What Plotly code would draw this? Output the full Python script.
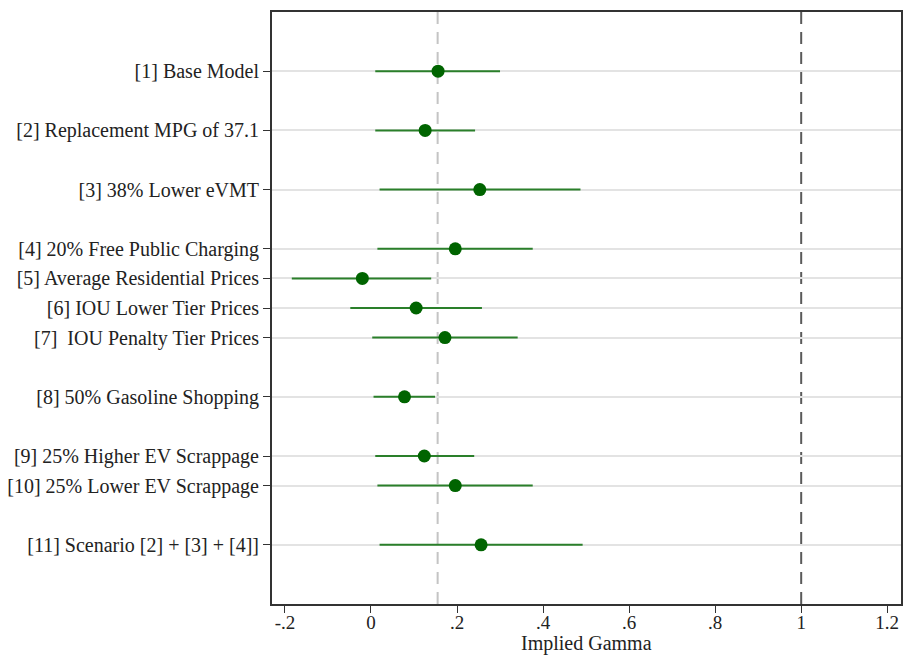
import plotly.graph_objects as go

labels = [
    "[1] Base Model",
    "[2] Replacement MPG of 37.1",
    "[3] 38% Lower eVMT",
    "[4] 20% Free Public Charging",
    "[5] Average Residential Prices",
    "[6] IOU Lower Tier Prices",
    "[7]  IOU Penalty Tier Prices",
    "[8] 50% Gasoline Shopping",
    "[9] 25% Higher EV Scrappage",
    "[10] 25% Lower EV Scrappage",
    "[11] Scenario [2] + [3] + [4]]",
]
row_pos = [0, 2, 4, 6, 7, 8, 9, 11, 13, 14, 16]
gamma = [0.156, 0.126, 0.253, 0.196, -0.020, 0.105, 0.172, 0.078, 0.124, 0.196, 0.256]
ci_low = [0.010, 0.010, 0.020, 0.015, -0.184, -0.048, 0.003, 0.006, 0.010, 0.015, 0.020]
ci_high = [0.300, 0.242, 0.487, 0.376, 0.140, 0.258, 0.341, 0.149, 0.240, 0.376, 0.492]
x_ticks = [-0.2, 0, 0.2, 0.4, 0.6, 0.8, 1, 1.2]
x_tick_text = ["-.2", "0", ".2", ".4", ".6", ".8", "1", "1.2"]
x_title = "Implied Gamma"
base_line = 0.155
unit_line = 1.0

err_plus = [h - g for h, g in zip(ci_high, gamma)]
err_minus = [g - l for g, l in zip(gamma, ci_low)]

font_family = "Liberation Serif"

fig = go.Figure()
fig.add_trace(go.Scatter(
    x=gamma, y=row_pos, mode="markers",
    marker=dict(color="#006400", size=13),
    error_x=dict(type="data", symmetric=False, array=err_plus, arrayminus=err_minus,
                 width=0, thickness=2, color="#2a7f2a"),
    showlegend=False,
))

fig.add_shape(type="line", xref="x", yref="paper", x0=base_line, x1=base_line, y0=0, y1=1,
              line=dict(color="#c4c4c4", width=2, dash="12px,8px"), layer="below")
fig.add_shape(type="line", xref="x", yref="paper", x0=unit_line, x1=unit_line, y0=0, y1=1,
              line=dict(color="#5a5a5a", width=2, dash="12px,8px"), layer="below")

fig.add_annotation(text=x_title, xref="paper", yref="paper", x=0.5, y=0,
                   xanchor="center", yanchor="bottom", yshift=-52, showarrow=False,
                   borderpad=0,
                   font=dict(family=font_family, size=20, color="#222222"))

fig.update_layout(
    width=904, height=655,
    margin=dict(l=272, r=1, t=12, b=51),
    plot_bgcolor="white", paper_bgcolor="white",
    font=dict(family=font_family, size=20, color="#222222"),
    xaxis=dict(
        range=[-0.230, 1.232], tickvals=x_ticks, ticktext=x_tick_text,
        ticks="outside", ticklen=7, tickwidth=1, tickcolor="#333333",
        ticklabelstandoff=-7,
        showgrid=False, zeroline=False,
        showline=True, linecolor="#333333", linewidth=2, mirror=True,
        tickfont=dict(size=19),
    ),
    yaxis=dict(
        range=[18.0, -2.0], tickvals=row_pos, ticktext=labels,
        ticks="outside", ticklen=7, tickwidth=1, tickcolor="#333333",
        showgrid=True, gridcolor="#e3e3e3", gridwidth=2, zeroline=False,
        showline=True, linecolor="#333333", linewidth=2, mirror=True,
        tickfont=dict(size=20),
    ),
)

fig.write_html("out.html")
